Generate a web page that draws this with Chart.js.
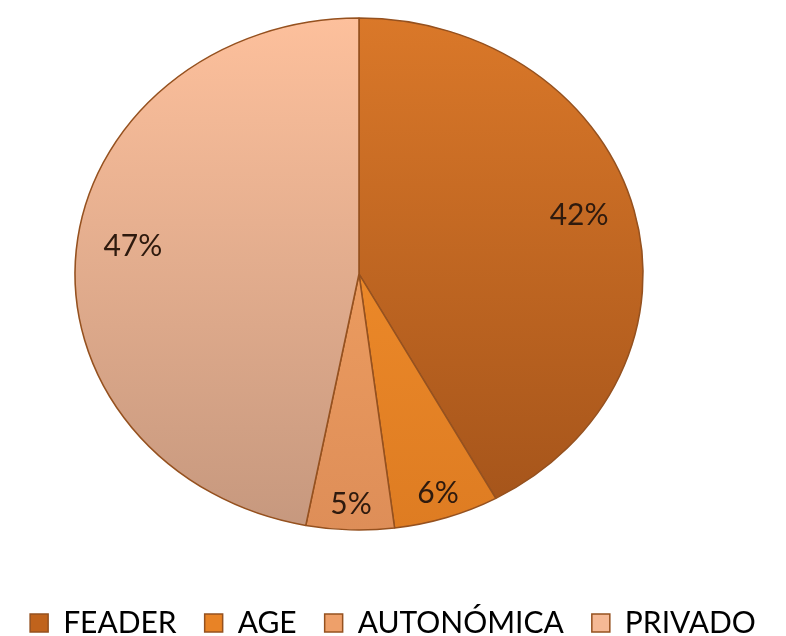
<!DOCTYPE html>
<html>
<head>
<meta charset="utf-8">
<script src="https://cdn.jsdelivr.net/npm/chart.js@4"></script>
<style>
  html, body { margin: 0; padding: 0; background: #ffffff; }
  #wrap { width: 786px; height: 636px; }
</style>
</head>
<body>
<div id="wrap"><canvas id="c" width="786" height="636"></canvas></div>
<script>
// ---- data ----
const categories = ['FEADER', 'AGE', 'AUTONÓMICA', 'PRIVADO'];
const shares = [42, 6, 5, 47];

// ---- styles ----
const topColors    = ['#da7829', '#f8942f', '#f8a866', '#fdc09c'];
const bottomColors = ['#a3531a', '#de7c22', '#de8e58', '#c6987e'];
const legendColors = ['#c0631c', '#e88326', '#eea06a', '#f5b995'];
const borderColor = '#95511f';

// ellipse geometry of the pie on the page
const PIE_CX = 359, PIE_CY = 274, PIE_RX = 284, PIE_RY = 256;

function sliceFill(context) {
  const i = context.dataIndex;
  const chart = context.chart;
  const area = chart.chartArea;
  if (!area) return legendColors[i];
  const g = chart.ctx.createLinearGradient(0, area.top, 0, area.bottom);
  g.addColorStop(0, topColors[i]);
  g.addColorStop(1, bottomColors[i]);
  return g;
}

const ellipsePlugin = {
  id: 'ellipsePie',
  beforeDatasetsDraw(chart) {
    const arc = chart.getDatasetMeta(0).data[0];
    const ctx = chart.ctx;
    ctx.save();
    ctx.translate(PIE_CX, PIE_CY);
    ctx.scale(PIE_RX / arc.outerRadius, PIE_RY / arc.outerRadius);
    ctx.translate(-arc.x, -arc.y);
  },
  afterDatasetsDraw(chart) {
    const ctx = chart.ctx;
    ctx.restore();
    const meta = chart.getDatasetMeta(0);
    ctx.save();
    ctx.font = '30px Lato';
    ctx.fillStyle = '#2e1a0e';
    ctx.textAlign = 'center';
    ctx.textBaseline = 'middle';
    meta.data.forEach((arc, i) => {
      const mid = (arc.startAngle + arc.endAngle) / 2;
      const small = (arc.endAngle - arc.startAngle) < 0.6;
      const f = small ? 0.9 : 0.8;
      const dy = small ? 0 : -8;
      const x = PIE_CX + Math.cos(mid) * f * PIE_RX;
      const y = PIE_CY + Math.sin(mid) * f * PIE_RY + dy;
      ctx.fillText(shares[i] + '%', x, y);
    });
    ctx.restore();
  }
};

Chart.defaults.font.family = 'Lato';

new Chart(document.getElementById('c'), {
  type: 'pie',
  data: {
    labels: categories,
    datasets: [{
      data: shares,
      backgroundColor: sliceFill,
      borderColor: borderColor,
      borderWidth: 1.6,
      clip: false
    }]
  },
  options: {
    responsive: false,
    animation: false,
    layout: { padding: { top: 0, left: 0, right: 0, bottom: -12 } },
    plugins: {
      tooltip: { enabled: false },
      legend: {
        position: 'bottom',
        labels: {
          font: { size: 30, family: 'Lato' },
          color: '#1e1e1e',
          boxWidth: 18,
          boxHeight: 18,
          padding: 28,
          generateLabels(chart) {
            return categories.map((name, i) => ({
              text: name,
              fillStyle: legendColors[i],
              strokeStyle: borderColor,
              lineWidth: 1.5,
              hidden: false,
              index: i
            }));
          }
        }
      }
    }
  },
  plugins: [ellipsePlugin]
});
</script>
</body>
</html>
